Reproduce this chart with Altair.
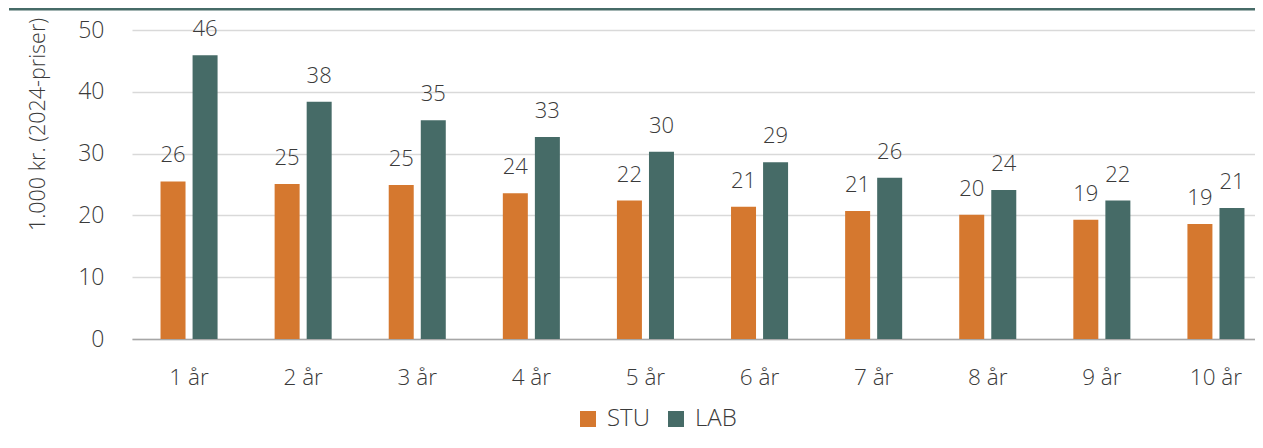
import altair as alt
import pandas as pd

years = ["1 år", "2 år", "3 år", "4 år", "5 år", "6 år", "7 år", "8 år", "9 år", "10 år"]
series = ["STU", "LAB"]
stu = [25.5, 25.1, 24.9, 23.6, 22.4, 21.4, 20.7, 20.1, 19.3, 18.6]
lab = [45.9, 38.4, 35.4, 32.7, 30.3, 28.6, 26.1, 24.1, 22.4, 21.2]
y_ticks = [0, 10, 20, 30, 40, 50]

rows = []
for i, yr in enumerate(years):
    rows.append({"år": yr, "serie": "STU", "værdi": stu[i]})
    rows.append({"år": yr, "serie": "LAB", "værdi": lab[i]})
df = pd.DataFrame(rows)

FONT = "Open Sans"
ORANGE = "#D5782F"
TEAL = "#466B67"
TXT = "#3A3A3A"

x = alt.X(
    "år:N", sort=years,
    scale=alt.Scale(range=[0, 1141], paddingInner=0.5, paddingOuter=0.25),
    axis=alt.Axis(title=None, labelAngle=0, labelFontSize=22.5, labelFont=FONT,
                  labelFontWeight=300, labelColor=TXT, labelPadding=27,
                  domainColor="#A6A6A6", domainWidth=1.5, ticks=False, grid=False),
)
xo = alt.XOffset("serie:N", sort=series, scale=alt.Scale(paddingInner=0.22, paddingOuter=0))
y = alt.Y(
    "værdi:Q", scale=alt.Scale(domain=[0, 50], nice=False),
    axis=alt.Axis(values=y_ticks, title="1.000 kr. (2024-priser)", grid=True,
                  gridColor="#D9D9D9", gridWidth=1.5, domain=False, ticks=False,
                  labelFontSize=23, labelFont=FONT, labelFontWeight=300, labelColor=TXT,
                  labelPadding=28, titleFontSize=21.5, titleFont=FONT, titleFontWeight=300,
                  titleColor=TXT, titleX=-94, titleY=94, titleAngle=270,
                  titleAlign="center", titleBaseline="middle"),
)
color = alt.Color(
    "serie:N", sort=series,
    scale=alt.Scale(domain=series, range=[ORANGE, TEAL]),
    legend=alt.Legend(title=None, orient="none", direction="horizontal",
                      legendX=444, legendY=377, symbolType="square", symbolSize=256,
                      symbolStrokeWidth=0, labelFontSize=24, labelFont=FONT,
                      labelFontWeight=300, labelColor=TXT, columnPadding=14,
                      labelOffset=7, padding=0),
)

base = alt.Chart(df)
bars = base.mark_bar().encode(x=x, xOffset=xo, y=y, color=color)
labels = base.mark_text(dy=-14, baseline="bottom", fontSize=22, font=FONT,
                        fontWeight=300, color=TXT).encode(
    x=x, xOffset=xo, y=y, text=alt.Text("værdi:Q", format=".0f"))
topline = alt.Chart(alt.Data(values=[{"a": 1}])).mark_rule(
    color=TEAL, strokeWidth=2.5).encode(
    x=alt.value(-123), x2=alt.value(1131), y=alt.value(-20.75))

chart = alt.layer(bars, labels, topline).properties(
    width=1123, height=309,
    autosize=alt.AutoSizeParams(type="none"),
    padding={"left": 124, "top": 22, "right": 0, "bottom": 101},
).configure_view(stroke=None)

chart.save("out.html", embed_options={"renderer": "svg", "actions": False})
